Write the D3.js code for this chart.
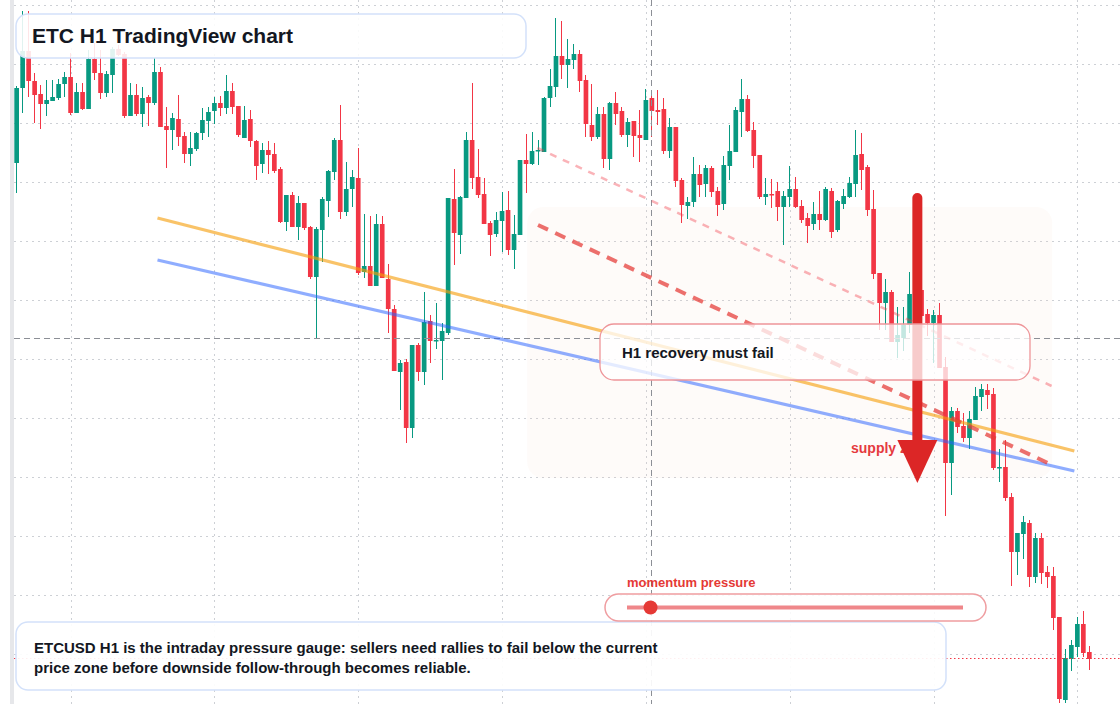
<!DOCTYPE html>
<html>
<head>
<meta charset="utf-8">
<title>ETC H1 TradingView chart</title>
<script src="https://cdn.jsdelivr.net/npm/d3@7"></script>
<style>
  body { margin: 0; background: #fff; }
  svg { display: block; font-family: "Liberation Sans", Arial, sans-serif; }
</style>
</head>
<body>
<div id="vizcontainer"></div>
<script>
const
  width = 1120,
  height = 704
  ;

// ETCUSD 1h candles
const opens = [
  18.37, 19.12, 19.49, 19.19, 19.06, 18.96, 18.99, 19.02, 19.16, 19.23,
  18.87, 19.08, 18.91, 19.41, 19.27, 19.07, 19.25, 19.51, 19.46, 18.84,
  19.05, 18.86, 19.03, 18.97, 19.28, 18.74, 18.70, 18.81, 18.64, 18.46,
  18.51, 18.67, 18.79, 18.89, 18.97, 18.92, 19.09, 18.94, 18.62, 18.81,
  18.59, 18.36, 18.50, 18.46, 18.31, 17.78, 18.05, 17.73, 17.97, 17.73,
  17.23, 17.70, 17.99, 18.28, 18.60, 17.88, 18.11, 18.22, 17.28, 17.34,
  17.14, 17.76, 17.21, 16.91, 16.28, 16.38, 15.72, 16.55, 16.28, 16.79,
  16.59, 16.59, 16.67, 18.01, 17.65, 18.02, 18.60, 18.23, 18.06, 17.77,
  17.66, 17.79, 17.90, 17.50, 17.65, 18.40, 18.36, 18.49, 18.48, 19.02,
  19.13, 19.44, 19.35, 19.40, 19.46, 19.20, 18.75, 18.63, 18.86, 18.41,
  18.97, 18.89, 18.65, 18.79, 18.65, 18.60, 19.02, 18.90, 18.91, 18.49,
  18.73, 18.20, 17.94, 17.98, 18.26, 18.16, 18.32, 18.09, 17.96, 18.34,
  18.48, 18.88, 19.01, 18.70, 18.45, 18.03, 18.06, 18.09, 17.93, 18.03,
  18.11, 17.94, 17.82, 17.76, 17.86, 17.80, 18.09, 17.70, 17.96, 18.03,
  18.16, 18.46, 18.33, 17.91, 17.27, 16.97, 17.08, 16.58, 16.62, 16.75,
  16.76, 17.10, 16.86, 16.77, 16.85, 16.33, 15.37, 15.89, 15.74, 15.62,
  15.80, 16.03, 16.10, 16.06, 15.32, 15.33, 15.03, 14.48, 14.66, 14.77,
  14.23, 14.62, 14.28, 14.24, 13.83, 13.00, 13.41, 13.53, 13.76, 13.48
];
const highs = [
  19.14, 19.89, 19.89, 19.27, 19.15, 19.20, 19.20, 19.21, 19.28, 19.47,
  19.17, 19.17, 19.50, 19.57, 19.50, 19.29, 19.53, 19.55, 19.48, 19.17,
  19.16, 19.13, 19.05, 19.42, 19.33, 18.93, 18.87, 19.05, 18.68, 18.68,
  18.68, 18.92, 18.93, 19.03, 19.04, 19.25, 19.17, 18.94, 18.94, 18.90,
  18.60, 18.57, 18.59, 18.57, 18.33, 18.05, 18.08, 18.04, 17.97, 17.74,
  17.73, 18.03, 18.30, 18.62, 18.95, 18.38, 18.30, 18.52, 17.86, 17.84,
  17.86, 17.84, 17.36, 16.95, 16.40, 16.41, 16.55, 16.57, 17.08, 16.85,
  16.97, 16.77, 18.02, 18.31, 18.04, 18.68, 19.17, 18.51, 18.22, 17.79,
  17.88, 18.08, 18.09, 17.85, 18.40, 18.66, 18.68, 18.60, 19.03, 19.31,
  19.82, 19.79, 19.61, 19.56, 19.50, 19.25, 19.16, 18.93, 18.93, 18.98,
  19.08, 18.93, 18.82, 18.79, 18.90, 19.11, 19.04, 19.10, 19.02, 18.82,
  18.73, 18.22, 18.03, 18.43, 18.35, 18.35, 18.34, 18.13, 18.44, 18.75,
  18.93, 19.21, 19.05, 18.78, 18.45, 18.22, 18.21, 18.18, 18.09, 18.34,
  18.23, 18.00, 17.87, 17.98, 18.09, 18.13, 18.12, 18.00, 18.11, 18.23,
  18.70, 18.67, 18.35, 18.10, 17.27, 17.21, 17.10, 16.93, 16.93, 17.28,
  17.18, 17.15, 16.91, 16.90, 16.97, 16.43, 15.93, 15.92, 15.87, 15.89,
  16.13, 16.16, 16.16, 16.12, 15.51, 15.60, 15.07, 14.67, 14.84, 14.80,
  14.67, 14.67, 14.34, 14.33, 13.83, 13.51, 13.60, 13.83, 13.89, 13.54
];
const lows = [
  18.07, 18.87, 19.03, 18.77, 18.71, 18.84, 18.99, 19.00, 19.03, 18.85,
  18.87, 18.90, 18.91, 19.20, 19.01, 19.03, 19.07, 19.44, 18.82, 18.84,
  18.84, 18.73, 18.74, 18.95, 18.73, 18.32, 18.50, 18.54, 18.37, 18.34,
  18.49, 18.60, 18.63, 18.76, 18.84, 18.86, 18.86, 18.63, 18.62, 18.53,
  18.20, 18.27, 18.26, 18.27, 17.77, 17.69, 17.73, 17.60, 17.70, 17.21,
  16.62, 17.38, 17.83, 18.20, 17.81, 17.84, 17.93, 17.25, 17.22, 17.14,
  17.14, 17.22, 16.67, 16.29, 15.90, 15.57, 15.62, 16.19, 16.15, 16.37,
  16.51, 16.20, 16.65, 17.35, 17.46, 18.02, 18.11, 18.02, 17.76, 17.44,
  17.63, 17.48, 17.45, 17.31, 17.65, 18.07, 18.35, 18.35, 18.48, 18.93,
  19.03, 19.21, 19.12, 19.31, 19.08, 18.63, 18.59, 18.61, 18.32, 18.30,
  18.75, 18.63, 18.53, 18.43, 18.38, 18.60, 18.63, 18.75, 18.46, 18.42,
  18.13, 17.77, 17.81, 17.93, 18.03, 18.03, 18.03, 17.84, 17.90, 18.20,
  18.48, 18.63, 18.68, 18.32, 18.01, 17.95, 17.92, 17.79, 17.55, 17.93,
  17.92, 17.77, 17.57, 17.70, 17.70, 17.79, 17.62, 17.68, 17.91, 18.02,
  18.03, 18.10, 17.84, 17.21, 16.70, 16.70, 16.58, 16.42, 16.49, 16.67,
  16.70, 16.80, 16.64, 16.37, 16.32, 14.84, 15.05, 15.67, 15.58, 15.51,
  15.80, 15.89, 15.91, 15.30, 15.18, 14.99, 14.14, 14.25, 14.41, 14.13,
  14.17, 14.16, 14.12, 13.70, 12.97, 12.97, 13.29, 13.43, 13.43, 13.30
];
const closes = [
  19.12, 19.49, 19.19, 19.05, 18.96, 19.00, 19.03, 19.16, 19.23, 18.87,
  19.08, 18.91, 19.41, 19.27, 19.07, 19.26, 19.51, 19.45, 18.84, 19.05,
  18.86, 19.02, 18.97, 19.28, 18.73, 18.70, 18.82, 18.63, 18.46, 18.52,
  18.67, 18.80, 18.88, 18.97, 18.92, 19.09, 18.93, 18.65, 18.80, 18.59,
  18.34, 18.50, 18.45, 18.29, 17.78, 18.05, 17.73, 17.97, 17.72, 17.23,
  17.71, 18.01, 18.29, 18.60, 17.88, 18.11, 18.23, 17.27, 17.34, 17.14,
  17.76, 17.22, 16.91, 16.29, 16.37, 15.72, 16.55, 16.28, 16.78, 16.59,
  16.60, 16.69, 18.02, 17.67, 18.03, 18.60, 18.22, 18.05, 17.76, 17.65,
  17.80, 17.89, 17.50, 17.66, 18.40, 18.36, 18.49, 18.50, 19.02, 19.14,
  19.44, 19.35, 19.41, 19.46, 19.19, 18.76, 18.63, 18.86, 18.41, 18.97,
  18.86, 18.65, 18.78, 18.64, 18.62, 19.00, 18.89, 18.88, 18.49, 18.73,
  18.19, 17.95, 17.98, 18.26, 18.15, 18.32, 18.08, 17.95, 18.35, 18.49,
  18.90, 19.01, 18.69, 18.44, 18.03, 18.06, 18.05, 17.93, 18.04, 18.11,
  17.93, 17.80, 17.74, 17.86, 17.80, 18.11, 17.68, 17.99, 18.04, 18.17,
  18.45, 18.30, 17.90, 17.26, 16.97, 17.08, 16.58, 16.65, 16.75, 17.06,
  17.11, 16.84, 16.77, 16.85, 16.32, 15.37, 15.89, 15.73, 15.62, 15.81,
  16.04, 16.11, 16.05, 15.32, 15.33, 15.02, 14.48, 14.67, 14.78, 14.23,
  14.62, 14.27, 14.23, 13.82, 13.01, 13.42, 13.55, 13.76, 13.47, 13.41
];

// grid (no labels on the picture)
const gridPrices = [19.95, 19.36, 18.77, 18.18, 17.59, 17.00, 16.41, 15.82, 15.23, 14.64, 14.05, 13.46];
const gridCandles = [9, 33, 57, 81, 105, 129, 153, 177];

// drawings, anchored on [candle index, price]
const orangeLine = [[23.5, 17.82], [176.5, 15.49]];
const blueLine = [[23.5, 17.40], [176.5, 15.29]];
const redDashLine = [[87, 17.75], [172.8, 15.35]];
const pinkDashLine = [[86.9, 18.52], [172.7, 16.14]];
const supplyZone = [[85.2, 17.93], [172.8, 15.22]];
const arrowPath = [[150.3, 18.07], [150.3, 15.17]];
const crosshair = [106, 16.62];
const momentumValue = 7; // of 100

const titleText = 'ETC H1 TradingView chart';
const noteLines = [
  'ETCUSD H1 is the intraday pressure gauge: sellers need rallies to fail below the current',
  'price zone before downside follow-through becomes reliable.'
];

const up = '#089981', down = '#f23645';

let x = d3.scaleBand()
  .domain(d3.range(opens.length))
  .range([13, 1093])
  .padding(0.22);

// continuous version of x for drawings between candles
let xi = d3.scaleLinear()
  .domain([0, opens.length - 1])
  .range([x(0) + x.bandwidth() / 2, x(opens.length - 1) + x.bandwidth() / 2]);

let y = d3.scaleLinear()
  .domain([20, 12.96])
  .range([0, height]);

let svg = d3.select('#vizcontainer')
  .append('svg')
  .attr('width', width)
  .attr('height', height);

svg.append('rect').attr('width', width).attr('height', height).attr('fill', '#fff');
svg.append('rect').attr('x', 10).attr('y', 0).attr('width', 4).attr('height', height).attr('fill', '#e6e7ea');

// grid
let grid = svg.append('g')
  .attr('stroke', '#cdd0d5')
  .attr('stroke-width', 1)
  .attr('stroke-dasharray', '2,4');
grid.selectAll('.gx')
  .data(gridCandles)
  .join('line')
  .attr('x1', d => Math.round(xi(d)) + 0.5)
  .attr('x2', d => Math.round(xi(d)) + 0.5)
  .attr('y1', 0)
  .attr('y2', height);
grid.selectAll('.gy')
  .data(gridPrices)
  .join('line')
  .attr('x1', 14)
  .attr('x2', width)
  .attr('y1', d => Math.round(y(d)) + 0.5)
  .attr('y2', d => Math.round(y(d)) + 0.5);

// supply zone
svg.append('rect')
  .attr('x', xi(supplyZone[0][0]))
  .attr('y', y(supplyZone[0][1]))
  .attr('width', xi(supplyZone[1][0]) - xi(supplyZone[0][0]))
  .attr('height', y(supplyZone[1][1]) - y(supplyZone[0][1]))
  .attr('rx', 16)
  .attr('fill', '#f7d9c8')
  .attr('opacity', 0.1);

// candles
let candles = svg.append('g')
  .selectAll('g')
  .data(d3.range(opens.length))
  .join('g')
  .attr('fill', i => closes[i] >= opens[i] ? up : down)
  .attr('stroke', i => closes[i] >= opens[i] ? up : down);

candles.append('line')
  .attr('x1', i => Math.floor(x(i) + x.bandwidth() / 2) + 0.5)
  .attr('x2', i => Math.floor(x(i) + x.bandwidth() / 2) + 0.5)
  .attr('y1', i => y(highs[i]))
  .attr('y2', i => y(lows[i]))
  .attr('stroke-width', 1);

candles.append('rect')
  .attr('stroke', 'none')
  .attr('x', i => x(i))
  .attr('width', x.bandwidth())
  .attr('y', i => y(Math.max(opens[i], closes[i])))
  .attr('height', i => Math.max(1.5, Math.abs(y(opens[i]) - y(closes[i]))));

// crosshair and last price line
svg.append('line')
  .attr('x1', 14).attr('x2', width)
  .attr('y1', Math.round(y(crosshair[1])) + 0.5).attr('y2', Math.round(y(crosshair[1])) + 0.5)
  .attr('stroke', '#8c8f96').attr('stroke-width', 1).attr('stroke-dasharray', '6,4');
svg.append('line')
  .attr('x1', Math.round(xi(crosshair[0])) - 0.5).attr('x2', Math.round(xi(crosshair[0])) - 0.5)
  .attr('y1', 0).attr('y2', height)
  .attr('stroke', '#8c8f96').attr('stroke-width', 1).attr('stroke-dasharray', '6,4');
svg.append('line')
  .attr('x1', 14).attr('x2', width)
  .attr('y1', Math.round(y(closes[closes.length - 1])) - 0.5)
  .attr('y2', Math.round(y(closes[closes.length - 1])) - 0.5)
  .attr('stroke', down).attr('stroke-width', 1).attr('stroke-dasharray', '1.5,2.5');

// trend lines
const seg = d3.line().x(d => xi(d[0])).y(d => y(d[1]));
svg.append('path').attr('d', seg(pinkDashLine))
  .attr('stroke', '#f23645').attr('stroke-opacity', 0.38).attr('stroke-width', 2.5)
  .attr('stroke-dasharray', '7,7').attr('fill', 'none');
svg.append('path').attr('d', seg(orangeLine))
  .attr('stroke', '#f59e0b').attr('stroke-opacity', 0.62).attr('stroke-width', 3.2).attr('fill', 'none');
svg.append('path').attr('d', seg(blueLine))
  .attr('stroke', '#2962ff').attr('stroke-opacity', 0.52).attr('stroke-width', 3.2).attr('fill', 'none');
svg.append('path').attr('d', seg(redDashLine))
  .attr('stroke', '#e53935').attr('stroke-opacity', 0.72).attr('stroke-width', 4)
  .attr('stroke-dasharray', '11,8').attr('fill', 'none');

// title box
svg.append('rect')
  .attr('x', 16).attr('y', 14).attr('width', 510).attr('height', 44).attr('rx', 12)
  .attr('fill', '#fff').attr('fill-opacity', 0.88)
  .attr('stroke', '#d3e1fa').attr('stroke-width', 1.5);
svg.append('text')
  .attr('x', 32).attr('y', 43)
  .attr('font-size', 21).attr('font-weight', 700).attr('fill', '#131722')
  .text(titleText);

// bottom note
svg.append('rect')
  .attr('x', 16).attr('y', 622).attr('width', 930).attr('height', 68).attr('rx', 12)
  .attr('fill', '#fff').attr('fill-opacity', 0.92)
  .attr('stroke', '#d3e1fa').attr('stroke-width', 1.5);
svg.append('g').selectAll('text')
  .data(noteLines)
  .join('text')
  .attr('x', 34)
  .attr('y', (d, k) => 653 + k * 20)
  .attr('font-size', 15).attr('font-weight', 700).attr('fill', '#131722')
  .text(d => d);

// supply zone label + arrow
svg.append('text')
  .attr('x', 851).attr('y', 453)
  .attr('font-size', 14).attr('font-weight', 700).attr('fill', '#e53a3f')
  .text('supply zone');

const ax = xi(arrowPath[0][0]), ayTop = y(arrowPath[0][1]), ayTip = y(arrowPath[1][1]);
svg.append('line')
  .attr('x1', ax).attr('x2', ax)
  .attr('y1', ayTop + 5).attr('y2', ayTip - 40)
  .attr('stroke', '#dc2626').attr('stroke-width', 10).attr('stroke-linecap', 'round');
svg.append('path')
  .attr('d', `M${ax - 20},${ayTip - 43}L${ax + 20},${ayTip - 43}L${ax},${ayTip}Z`)
  .attr('fill', '#dc2626');

// callout box
svg.append('rect')
  .attr('x', 600).attr('y', 324).attr('width', 430).attr('height', 56).attr('rx', 14)
  .attr('fill', '#fff').attr('fill-opacity', 0.76)
  .attr('stroke', '#ee9599').attr('stroke-width', 1.3);
svg.append('text')
  .attr('x', 622).attr('y', 358)
  .attr('font-size', 15).attr('font-weight', 700).attr('fill', '#131722')
  .text('H1 recovery must fail');

// momentum gauge
let gauge = d3.scaleLinear().domain([0, 100]).range([627, 963]);
svg.append('text')
  .attr('x', 627).attr('y', 587)
  .attr('font-size', 13).attr('font-weight', 700).attr('fill', '#e53935')
  .text('momentum pressure');
svg.append('rect')
  .attr('x', 605).attr('y', 594).attr('width', 381).attr('height', 27).attr('rx', 13.5)
  .attr('fill', '#fff').attr('fill-opacity', 0.85)
  .attr('stroke', '#ef9da0').attr('stroke-width', 1.5);
svg.append('line')
  .attr('x1', gauge(0)).attr('x2', gauge(100))
  .attr('y1', 607.5).attr('y2', 607.5)
  .attr('stroke', '#ec7276').attr('stroke-opacity', 0.85).attr('stroke-width', 4);
svg.append('circle')
  .attr('cx', gauge(momentumValue)).attr('cy', 607.5).attr('r', 7)
  .attr('fill', '#e53935');
</script>
</body>
</html>
